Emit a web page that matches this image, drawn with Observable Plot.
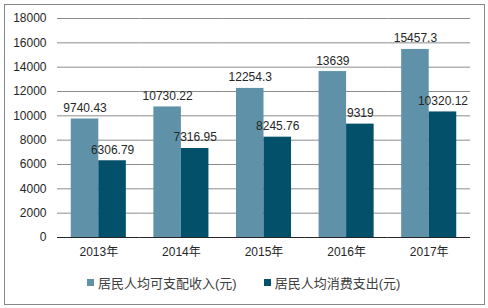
<!DOCTYPE html>
<html>
<head>
<meta charset="utf-8">
<script src="https://cdn.jsdelivr.net/npm/d3@7"></script>
<script src="https://cdn.jsdelivr.net/npm/@observablehq/plot@0.6"></script>
<style>
  html, body { margin: 0; padding: 0; background: #fff; }
  body { width: 488px; height: 308px; position: relative; overflow: hidden;
         font-family: Arial, "Liberation Sans", "Noto Sans CJK SC", sans-serif; }
  #frame { position: absolute; left: 4px; top: 4px; width: 479px; height: 299px;
           border: 1px solid #888; pointer-events: none; }
  #chart { position: absolute; left: 0; top: 0; }
  #legend { position: absolute; left: 87px; top: 273px; display: flex; align-items: center;
            font-size: 13px; color: #404040; white-space: nowrap; }
  .item { display: flex; align-items: center; }
  .sw { width: 7px; height: 7px; margin-right: 4px; }
</style>
</head>
<body>
<div id="chart"></div>
<div id="legend"></div>
<div id="frame"></div>
<script>
const years = ["2013年", "2014年", "2015年", "2016年", "2017年"];
const income = [9740.43, 10730.22, 12254.3, 13639, 15457.3];
const consumption = [6306.79, 7316.95, 8245.76, 9319, 10320.12];
const seriesNames = ["居民人均可支配收入(元)", "居民人均消费支出(元)"];
const colors = ["#5f92a8", "#03506b"];
const yTicks = [0, 2000, 4000, 6000, 8000, 10000, 12000, 14000, 16000, 18000];

const data = years.flatMap((yr, i) => [
  {year: yr, series: seriesNames[0], value: income[i]},
  {year: yr, series: seriesNames[1], value: consumption[i]}
]);

const chart = Plot.plot({
  width: 488,
  height: 262,
  marginTop: 18,
  marginBottom: 25,
  marginLeft: 57,
  marginRight: 18,
  style: {fontFamily: 'Arial, "Liberation Sans", "Noto Sans CJK SC", sans-serif', fontSize: "12px", color: "#262626", background: "transparent"},
  fx: {domain: years, padding: 0, round: false, label: null, axis: null},
  x: {domain: seriesNames, paddingInner: 0, paddingOuter: 0.5, round: false, axis: null},
  y: {domain: [0, 18000], label: null, axis: null},
  color: {domain: seriesNames, range: colors},
  marks: [
    Plot.gridY(yTicks.filter(t => t > 0), {stroke: "#8c8c8c", strokeOpacity: 1}),
    Plot.axisY(yTicks, {tickSize: 0, tickPadding: 11, label: null, fill: "#262626", tickFormat: d => String(d)}),
    Plot.axisFx({anchor: "bottom", tickSize: 0, tickPadding: 10, label: null, fill: "#262626"}),
    Plot.barY(data, {fx: "year", x: "series", y: "value", fill: "series"}),
    Plot.ruleY([0], {stroke: "#262626"}),
    Plot.text(data, {fx: "year", x: "series", y: "value", text: d => String(d.value),
      lineAnchor: "bottom", dy: -7, fill: "#262626", fontSize: 12})
  ]
});
document.getElementById("chart").appendChild(chart);

const legend = document.getElementById("legend");
seriesNames.forEach((name, i) => {
  const item = document.createElement("div");
  item.className = "item";
  if (i > 0) item.style.marginLeft = "27px";
  const sw = document.createElement("div");
  sw.className = "sw";
  sw.style.background = colors[i];
  const label = document.createElement("span");
  label.textContent = name;
  item.appendChild(sw);
  item.appendChild(label);
  legend.appendChild(item);
});
</script>
</body>
</html>
